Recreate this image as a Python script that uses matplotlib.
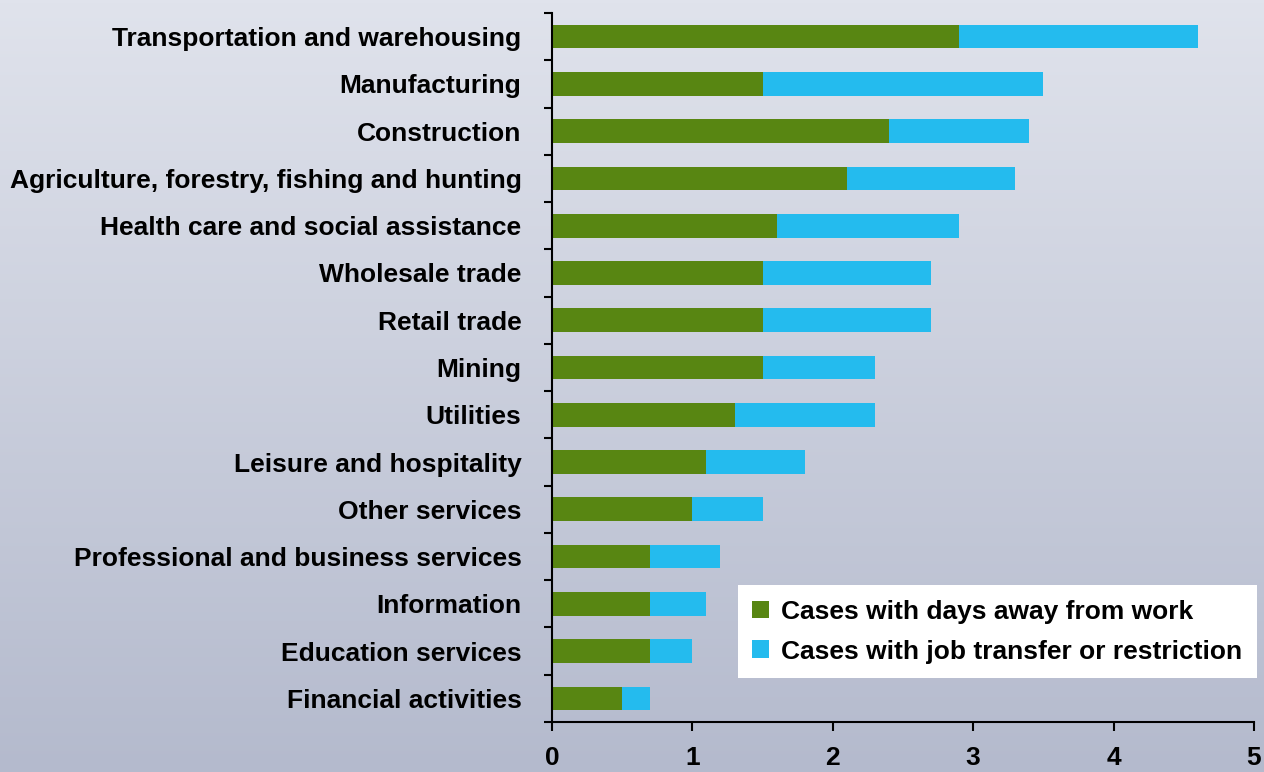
import matplotlib
matplotlib.use("Agg")
import matplotlib.pyplot as plt
import numpy as np
from matplotlib.colors import LinearSegmentedColormap
from matplotlib.ticker import FixedLocator

plt.rcParams["font.family"] = ["Liberation Sans", "DejaVu Sans"]
plt.rcParams["font.weight"] = "bold"

industries = [
    "Transportation and warehousing",
    "Manufacturing",
    "Construction",
    "Agriculture, forestry, fishing and hunting",
    "Health care and social assistance",
    "Wholesale trade",
    "Retail trade",
    "Mining",
    "Utilities",
    "Leisure and hospitality",
    "Other services",
    "Professional and business services",
    "Information",
    "Education services",
    "Financial activities",
]
days_away = [2.9, 1.5, 2.4, 2.1, 1.6, 1.5, 1.5, 1.5, 1.3, 1.1, 1.0, 0.7, 0.7, 0.7, 0.5]
job_transfer = [1.7, 2.0, 1.0, 1.2, 1.3, 1.2, 1.2, 0.8, 1.0, 0.7, 0.5, 0.5, 0.4, 0.3, 0.2]
x_ticks = [0, 1, 2, 3, 4, 5]

_GREEN = "#588612"
_BLUE = "#24BBEE"
_TOP = "#E0E3EC"
_BOTTOM = "#B4BACD"
_FS = 19

fig = plt.figure(figsize=(12.64, 7.72), dpi=100)

# gradient background
bg = fig.add_axes([0, 0, 1, 1], zorder=0)
grad = np.linspace(0, 1, 256).reshape(-1, 1)
cmap_bg = LinearSegmentedColormap.from_list("bg", [_TOP, _BOTTOM])
bg.imshow(grad, aspect="auto", cmap=cmap_bg, extent=[0, 1, 0, 1], origin="upper")
bg.axis("off")

ax = fig.add_axes([552 / 1264, 1 - 722 / 772, 702 / 1264, 709 / 772], zorder=1)
ax.patch.set_alpha(0)

y = np.arange(len(industries))
ax.barh(y, days_away, height=0.5, color=_GREEN, label="Cases with days away from work")
ax.barh(y, job_transfer, left=days_away, height=0.5, color=_BLUE,
        label="Cases with job transfer or restriction")

ax.set_ylim(len(industries) - 0.5, -0.5)
ax.set_xlim(0, 5)
ax.set_xticks(x_ticks)
ax.set_yticks(y)
ax.set_yticklabels(industries, fontsize=_FS, fontweight="bold")
ax.yaxis.set_minor_locator(FixedLocator(np.arange(-0.5, len(industries), 1.0)))
ax.tick_params(axis="y", which="major", length=0, pad=22)
ax.tick_params(axis="y", which="minor", length=6, width=1.5, direction="out")
ax.tick_params(axis="x", which="major", length=6.5, width=1.5, direction="out",
               pad=11, labelsize=_FS)
for lbl in ax.get_xticklabels():
    lbl.set_fontweight("bold")

for s in ("top", "right"):
    ax.spines[s].set_visible(False)
for s in ("left", "bottom"):
    ax.spines[s].set_linewidth(1.5)

leg = ax.legend(loc="lower right", bbox_to_anchor=(1.004, 0.062), borderaxespad=0,
                fontsize=_FS, frameon=True, fancybox=False, framealpha=1,
                handlelength=0.65, handleheight=0.65, handletextpad=0.45,
                borderpad=0.55, labelspacing=0.6)
leg.get_frame().set_edgecolor("none")
leg.get_frame().set_facecolor("white")
for t in leg.get_texts():
    t.set_fontweight("bold")

fig.savefig("out.png", dpi=100)
